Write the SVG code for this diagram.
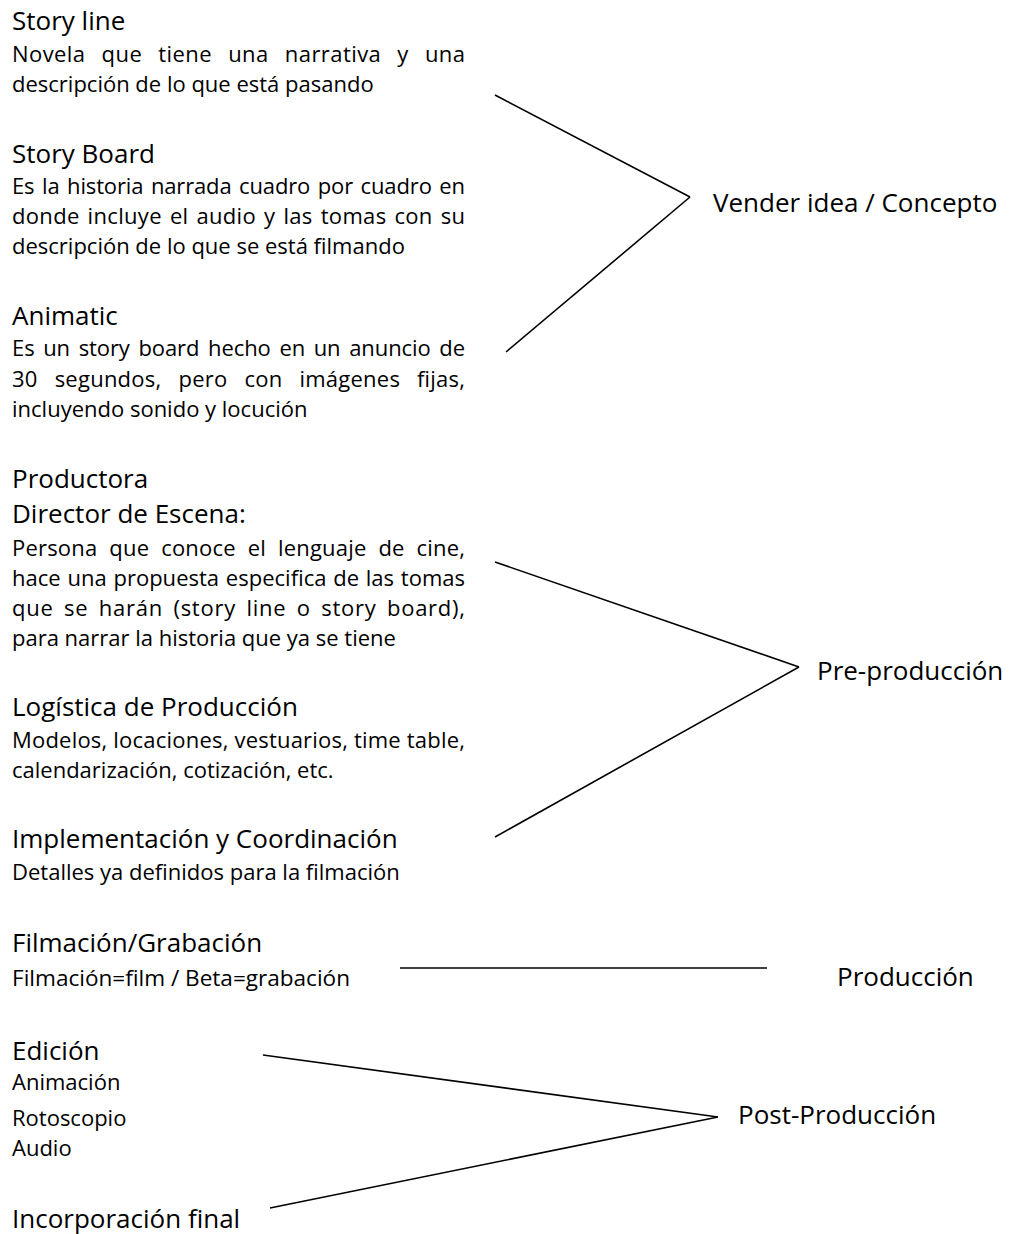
<svg xmlns="http://www.w3.org/2000/svg" width="1009" height="1234" viewBox="0 0 1009 1234">
<style>
text{font-family:"Open Sans","Noto Sans",sans-serif;fill:#000}
.h{font-size:26px}
.b{font-size:22px}
.c line{stroke:#000;stroke-width:1.6;fill:none}
</style>
<rect width="1009" height="1234" fill="#fff"/>
<g id="storyline">
<text class="h" x="12" y="30">Story line</text>
<text class="b" x="12" y="62" word-spacing="10" textLength="453" lengthAdjust="spacing">Novela que tiene una narrativa y una</text>
<text class="b" x="12" y="92">descripción de lo que está pasando</text>
</g>
<g id="storyboard">
<text class="h" x="12" y="163">Story Board</text>
<text class="b" x="12" y="194" word-spacing="2" textLength="453" lengthAdjust="spacing">Es la historia narrada cuadro por cuadro en</text>
<text class="b" x="12" y="224" word-spacing="2" textLength="453" lengthAdjust="spacing">donde incluye el audio y las tomas con su</text>
<text class="b" x="12" y="254">descripción de lo que se está filmando</text>
</g>
<g id="animatic">
<text class="h" x="12" y="325">Animatic</text>
<text class="b" x="12" y="356" word-spacing="3" textLength="453" lengthAdjust="spacing">Es un story board hecho en un anuncio de</text>
<text class="b" x="12" y="387" word-spacing="11" textLength="453" lengthAdjust="spacing">30 segundos, pero con imágenes fijas,</text>
<text class="b" x="12" y="417">incluyendo sonido y locución</text>
</g>
<g id="vender">
<text class="h" x="713" y="212">Vender idea / Concepto</text>
</g>
<g id="productora">
<text class="h" x="12" y="488">Productora</text>
<text class="h" x="12" y="523">Director de Escena:</text>
<text class="b" x="12" y="556" word-spacing="6" textLength="453" lengthAdjust="spacing">Persona que conoce el lenguaje de cine,</text>
<text class="b" x="12" y="586" word-spacing="1" textLength="453" lengthAdjust="spacing">hace una propuesta especifica de las tomas</text>
<text class="b" x="12" y="616" word-spacing="4" textLength="453" lengthAdjust="spacing">que se harán (story line o story board),</text>
<text class="b" x="12" y="646">para narrar la historia que ya se tiene</text>
</g>
<g id="logistica">
<text class="h" x="12" y="716">Logística de Producción</text>
<text class="b" x="12" y="748" textLength="453" lengthAdjust="spacing">Modelos, locaciones, vestuarios, time table,</text>
<text class="b" x="12" y="778">calendarización, cotización, etc.</text>
</g>
<g id="implementacion">
<text class="h" x="12" y="848">Implementación y Coordinación</text>
<text class="b" x="12" y="880">Detalles ya definidos para la filmación</text>
</g>
<g id="preproduccion">
<text class="h" x="817" y="680">Pre-producción</text>
</g>
<g id="filmacion">
<text class="h" x="12" y="952">Filmación/Grabación</text>
<text class="b" x="12" y="986" textLength="338" lengthAdjust="spacingAndGlyphs">Filmación=film / Beta=grabación</text>
</g>
<g id="produccion">
<text class="h" x="837" y="986">Producción</text>
</g>
<g id="edicion">
<text class="h" x="12" y="1060">Edición</text>
<text class="b" x="12" y="1090">Animación</text>
<text class="b" x="12" y="1126">Rotoscopio</text>
<text class="b" x="12" y="1156">Audio</text>
</g>
<g id="incorporacion">
<text class="h" x="12" y="1228">Incorporación final</text>
</g>
<g id="postproduccion">
<text class="h" x="738" y="1124">Post-Producción</text>
</g>
<g id="connectors" class="c">
<line x1="495" y1="95" x2="690" y2="197"/>
<line x1="690" y1="197" x2="506" y2="352"/>
<line x1="495" y1="562" x2="799" y2="667"/>
<line x1="799" y1="667" x2="495" y2="837"/>
<line x1="400" y1="968" x2="767" y2="968"/>
<line x1="263" y1="1055" x2="718" y2="1117"/>
<line x1="718" y1="1117" x2="270" y2="1208"/>
</g>
</svg>
